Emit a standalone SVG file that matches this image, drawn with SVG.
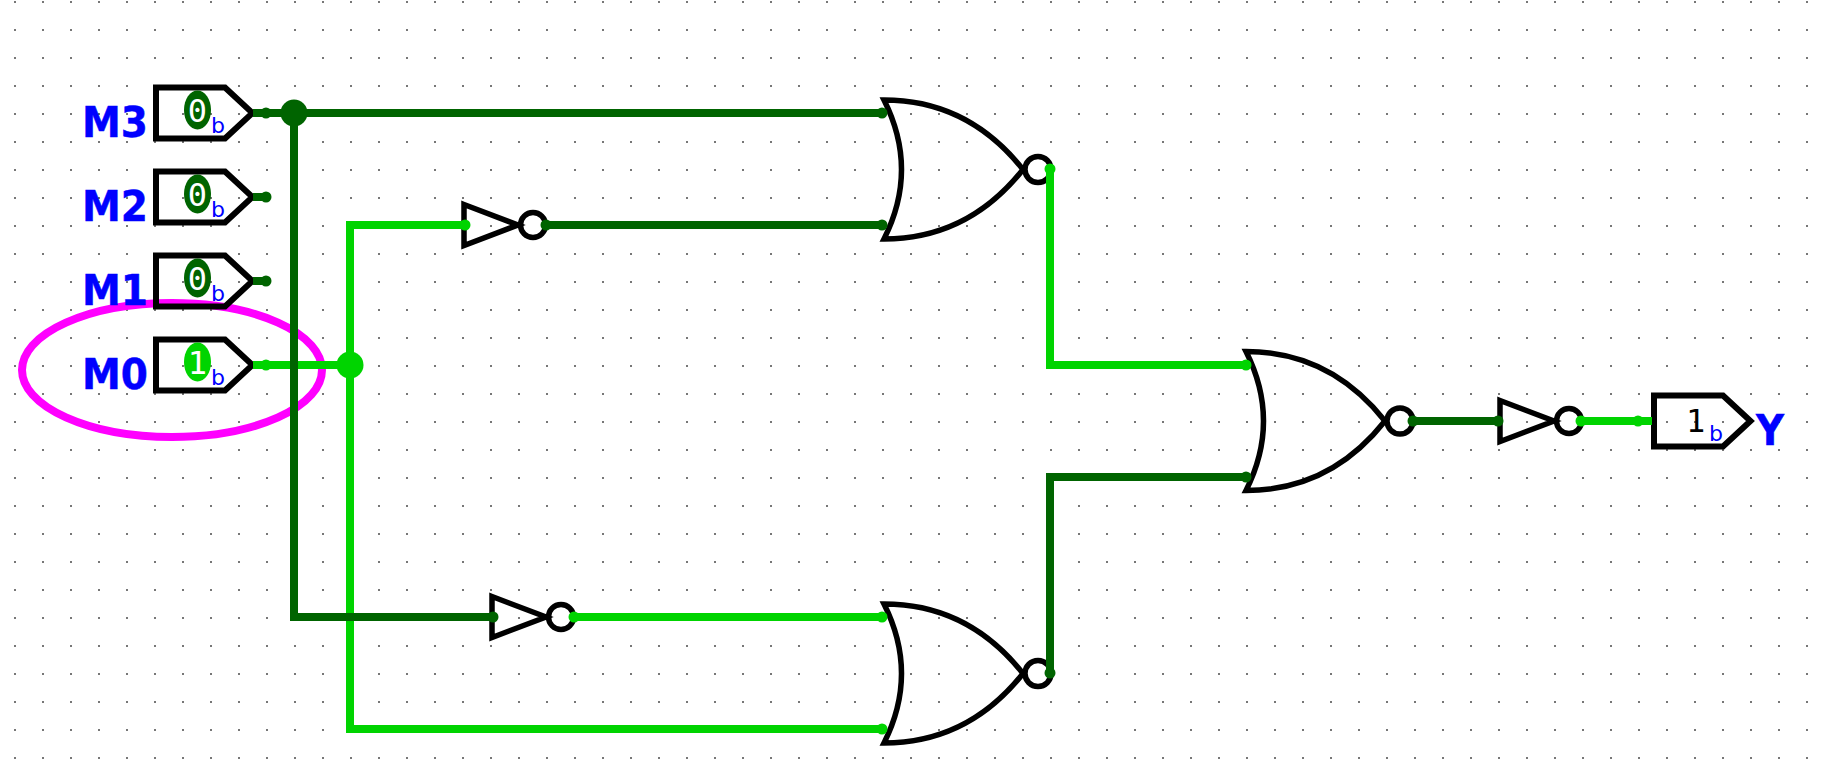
<svg xmlns="http://www.w3.org/2000/svg" width="1824" height="764" viewBox="0 0 1824 764">
<style>
.w{fill:none;stroke-width:8;stroke-linecap:butt;stroke-linejoin:miter}
.lo{stroke:#006400}.hi{stroke:#00d400}
.dl{fill:#006400}.dh{fill:#00d400}
.s{fill:none;stroke:#000;stroke-width:5.5;stroke-linejoin:miter}
.p{stroke-width:6}
.n{font:bold 43px "DejaVu Sans",sans-serif;fill:#0000ff;stroke:#0000ff;stroke-width:.5}
.v{font:32px "DejaVu Sans Mono",monospace;fill:#fff;text-anchor:middle}
.o{font:32px "DejaVu Sans Mono",monospace;fill:#000}
.b{font:22px "DejaVu Sans",sans-serif;fill:#0000ff}
</style>
<defs>
<pattern id="grid" x="14" y="1" width="28" height="28" patternUnits="userSpaceOnUse"><rect width="2" height="2" fill="#777"/></pattern>
<g id="nor"><path class="s" d="M884 100Q968 100 1023 169.5Q968 239 884 239Q919 169.5 884 100Z"/><circle class="s" cx="1038" cy="169.5" r="13"/></g>
<g id="not"><path class="s" d="M0 -20.5L54 0L0 20.5Z"/><circle class="s" cx="69" cy="0" r="12.5"/></g>
<path id="pin" class="s p" d="M0 -25.5H69L96.500 0L69 25.500H0Z"/>
</defs>
<rect width="1824" height="764" fill="#fff"/>
<rect width="1824" height="764" fill="url(#grid)"/>
<ellipse cx="172" cy="370" rx="150" ry="67" fill="none" stroke="#ff00ff" stroke-width="8"/>
<g id="M3"><use href="#pin" x="156" y="113"/><ellipse class="dl" cx="197.500" cy="110" rx="13.500" ry="19.500"/><text class="v" x="197.500" y="122">0</text><text class="b" x="211" y="133">b</text><text class="n" x="82" y="137" textLength="66" lengthAdjust="spacingAndGlyphs">M3</text></g>
<g id="M2"><use href="#pin" x="156" y="197"/><ellipse class="dl" cx="197.500" cy="194" rx="13.500" ry="19.500"/><text class="v" x="197.500" y="206">0</text><text class="b" x="211" y="217">b</text><text class="n" x="82" y="221" textLength="66" lengthAdjust="spacingAndGlyphs">M2</text></g>
<g id="M1"><use href="#pin" x="156" y="281"/><ellipse class="dl" cx="197.500" cy="278" rx="13.500" ry="19.500"/><text class="v" x="197.500" y="290">0</text><text class="b" x="211" y="301">b</text><text class="n" x="82" y="305" textLength="66" lengthAdjust="spacingAndGlyphs">M1</text></g>
<g id="M0"><use href="#pin" x="156" y="365"/><ellipse class="dh" cx="197.500" cy="362" rx="13.500" ry="19.500"/><text class="v" x="197.500" y="374">1</text><text class="b" x="211" y="385">b</text><text class="n" x="82" y="389" textLength="66" lengthAdjust="spacingAndGlyphs">M0</text></g>
<g id="gate1"><use href="#nor"/></g>
<g id="gate2"><use href="#nor" x="362" y="251.500"/></g>
<g id="gate3"><use href="#nor" y="504"/></g>
<g id="inv1"><use href="#not" x="464" y="225"/></g>
<g id="inv2"><use href="#not" x="492" y="617"/></g>
<g id="inv3"><use href="#not" x="1500" y="421"/></g>
<g id="Y"><use href="#pin" x="1654" y="421"/><text class="o" x="1686" y="432">1</text><text class="b" x="1709" y="441">b</text><text class="n" x="1756" y="445" textLength="28" lengthAdjust="spacingAndGlyphs">Y</text></g>
<g id="connectors">
<path class="w hi" d="M253 365H350M350 221V733M346 225H465M346 729H882"/>
<path class="w lo" d="M253 113H882M294 113V621M290 617H493M546 225H882"/>
<path class="w hi" d="M574 617H882M1050 169V365H1246M1581 421H1652"/>
<path class="w lo" d="M1050 673V477H1246M1413 421H1498"/>
<circle class="dl" cx="266" cy="113" r="5.5"/><circle class="dl" cx="266" cy="197" r="5.5"/><circle class="dl" cx="266" cy="281" r="5.5"/><circle class="dh" cx="266" cy="365" r="5.5"/>
<path class="w lo" d="M253 197H266M253 281H266"/>
<circle class="dl" cx="294" cy="113" r="13.500"/><circle class="dh" cx="350" cy="365" r="13.500"/>
<circle class="dh" cx="465" cy="225" r="5.5"/><circle class="dl" cx="546" cy="225" r="5.5"/><circle class="dl" cx="882" cy="113" r="5.5"/><circle class="dl" cx="882" cy="225" r="5.5"/>
<circle class="dl" cx="493" cy="617" r="5.5"/><circle class="dh" cx="574" cy="617" r="5.5"/><circle class="dh" cx="882" cy="617" r="5.5"/><circle class="dh" cx="882" cy="729" r="5.5"/>
<circle class="dh" cx="1050" cy="169" r="5.5"/><circle class="dl" cx="1050" cy="673" r="5.5"/><circle class="dh" cx="1246" cy="365" r="5.5"/><circle class="dl" cx="1246" cy="477" r="5.5"/>
<circle class="dl" cx="1413" cy="421" r="5.5"/><circle class="dl" cx="1498" cy="421" r="5.5"/><circle class="dh" cx="1581" cy="421" r="5.5"/><circle class="dh" cx="1638" cy="421" r="5.5"/>
</g>
</svg>
